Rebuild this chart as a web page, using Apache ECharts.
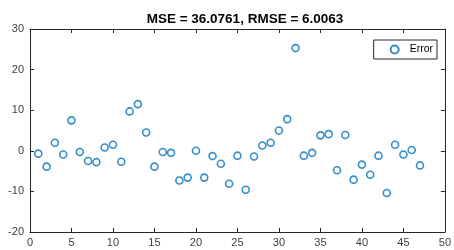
<!DOCTYPE html>
<html>
<head>
<meta charset="utf-8">
<script src="https://cdn.jsdelivr.net/npm/echarts@6/dist/echarts.min.js"></script>
<style>
  html, body { margin: 0; padding: 0; background: #fff; }
  #chart { width: 454px; height: 250px; }
</style>
</head>
<body>
<div id="chart"></div>
<script>
// sample index and error values
var sampleIdx = [];
for (var i = 1; i <= 47; i++) sampleIdx.push(i);
var errorVals = [
  -0.7, -3.9, 2.0, -0.9, 7.5, -0.3, -2.5, -2.8, 0.8, 1.5,
  -2.7, 9.7, 11.5, 4.5, -3.9, -0.3, -0.5, -7.3, -6.6, 0.0,
  -6.6, -1.3, -3.2, -8.1, -1.2, -9.6, -1.4, 1.3, 2.0, 5.0,
  7.8, 25.3, -1.2, -0.5, 3.8, 4.1, -4.8, 3.9, -7.1, -3.4,
  -5.9, -1.2, -10.4, 1.5, -0.9, 0.2, -3.6
];
var titleText = 'MSE = 36.0761, RMSE = 6.0063';
var seriesName = 'Error';

var chart = echarts.init(document.getElementById('chart'));

var axisCol = '#262626';
var pts = sampleIdx.map(function (x, i) { return [x, errorVals[i]]; });

function xAx(pos, showLabel) {
  return {
    type: 'value', position: pos, min: 0, max: 50, interval: 5,
    axisLine: { show: true, onZero: false, lineStyle: { color: axisCol, width: 1 } },
    axisTick: { show: true, inside: true, length: 4, lineStyle: { color: axisCol } },
    axisLabel: { show: showLabel, color: '#404040', fontSize: 11, fontFamily: 'Liberation Sans', margin: 5 },
    splitLine: { show: false }
  };
}
function yAx(pos, showLabel) {
  return {
    type: 'value', position: pos, min: -20, max: 30, interval: 10,
    axisLine: { show: true, onZero: false, lineStyle: { color: axisCol, width: 1 } },
    axisTick: { show: true, inside: true, length: 4, lineStyle: { color: axisCol } },
    axisLabel: { show: showLabel, color: '#404040', fontSize: 11, fontFamily: 'Liberation Sans', margin: 6 },
    splitLine: { show: false }
  };
}

chart.setOption({
  animation: false,
  title: {
    text: titleText, left: 240, top: 7, textAlign: 'center',
    textStyle: { fontSize: 13.5, fontWeight: 'bold', color: '#000', fontFamily: 'Liberation Sans' }
  },
  legend: {
    data: [{ name: seriesName, icon: 'circle' }],
    right: 17, top: 40,
    orient: 'vertical',
    itemWidth: 8, itemHeight: 8, itemGap: 0,
    padding: [4, 4, 4, 16],
    borderColor: '#262626', borderWidth: 1, backgroundColor: '#fff',
    textStyle: { fontSize: 10.5, color: '#000', fontFamily: 'Liberation Sans', padding: [0, 0, 0, 6] }
  },
  grid: { left: 30, right: 5, top: 29, bottom: 18 },
  xAxis: [xAx('bottom', true), xAx('top', false)],
  yAxis: [yAx('left', true), yAx('right', false)],
  series: [{
    name: seriesName,
    type: 'scatter',
    data: pts,
    symbol: 'circle',
    symbolSize: 7,
    itemStyle: { color: 'rgba(0,0,0,0)', borderColor: '#0072BD', borderWidth: 1.6 }
  }]
});
</script>
</body>
</html>
